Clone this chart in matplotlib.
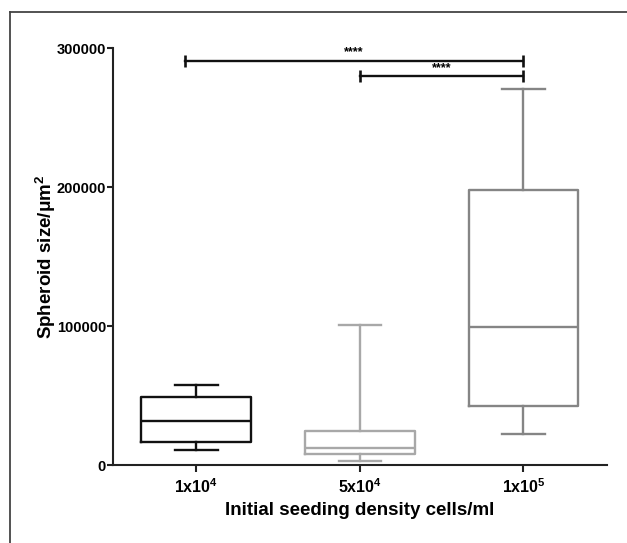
import matplotlib
matplotlib.use("Agg")
import matplotlib.pyplot as plt
from matplotlib.lines import Line2D

plt.rcParams.update({
    "font.family": "Liberation Sans",
    "font.weight": "bold",
    "mathtext.fontset": "custom",
    "mathtext.rm": "Liberation Sans:bold",
    "mathtext.bf": "Liberation Sans:bold",
    "mathtext.default": "bf",
})

# box statistics
groups = ["1x10$^4$", "5x10$^4$", "1x10$^5$"]
whislo = [11000, 3000, 22500]
q1 = [16500, 8000, 42500]
med = [31500, 12500, 99000]
q3 = [49000, 24500, 198000]
whishi = [57500, 101000, 270500]
colors = ["#111111", "#a8a8a8", "#858585"]

# significance brackets: (x start, x end, y, label)
brackets = [(-0.07, 2, 291000, "****"), (1, 2, 279500, "****")]

fig = plt.figure(figsize=(6.27, 5.43), dpi=100)
ax = fig.add_axes([0.180, 0.1436, 0.788, 0.768])

stats = []
for i in range(3):
    stats.append({"whislo": whislo[i], "q1": q1[i], "med": med[i],
                  "q3": q3[i], "whishi": whishi[i], "fliers": []})

for i, s in enumerate(stats):
    c = colors[i]
    lp = dict(color=c, linewidth=1.7)
    ax.bxp([s], positions=[i], widths=0.67, capwidths=0.26, showfliers=False,
           boxprops=lp, whiskerprops=lp, capprops=lp, medianprops=lp)

for x0, x1, y, lab in brackets:
    ax.plot([x0, x1], [y, y], color="#111111", lw=1.7, clip_on=False)
    ax.plot([x0, x1], [y, y], ls="none", marker="|", ms=8, mew=1.9,
            color="#111111", clip_on=False)
    ax.text((x0 + x1) / 2, y + 2000, lab, ha="center", va="bottom",
            fontsize=9, fontweight="bold")

ax.set_xlim(-0.51, 2.51)
ax.set_ylim(0, 300000)
ax.set_yticks([0, 100000, 200000, 300000])
ax.set_yticklabels(["0", "100000", "200000", "300000"])
ax.set_xticks([0, 1, 2])
ax.set_xticklabels(groups)
ax.tick_params(axis="y", labelsize=10.5, width=1.5, length=4.5, pad=0.5, color="#222222")
ax.tick_params(axis="x", labelsize=11.5, width=1.5, length=5, pad=4, color="#222222")
for lab in ax.get_xticklabels() + ax.get_yticklabels():
    lab.set_fontweight("bold")

for sp in ["top", "right"]:
    ax.spines[sp].set_visible(False)
for sp in ["left", "bottom"]:
    ax.spines[sp].set_linewidth(1.5)
    ax.spines[sp].set_color("#222222")

ax.set_ylabel("Spheroid size/μm$^2$", fontsize=13.5, fontweight="bold", labelpad=-1)
ax.set_xlabel("Initial seeding density cells/ml", fontsize=13.5, fontweight="bold", labelpad=4)

# frame of the cropped figure (top and left edges)
fig.add_artist(Line2D([10 / 627, 1], [1 - 12 / 543, 1 - 12 / 543], color="#444444", lw=1.3))
fig.add_artist(Line2D([10 / 627, 10 / 627], [0, 1 - 12 / 543], color="#444444", lw=1.3))

fig.savefig("out.png", dpi=100)
